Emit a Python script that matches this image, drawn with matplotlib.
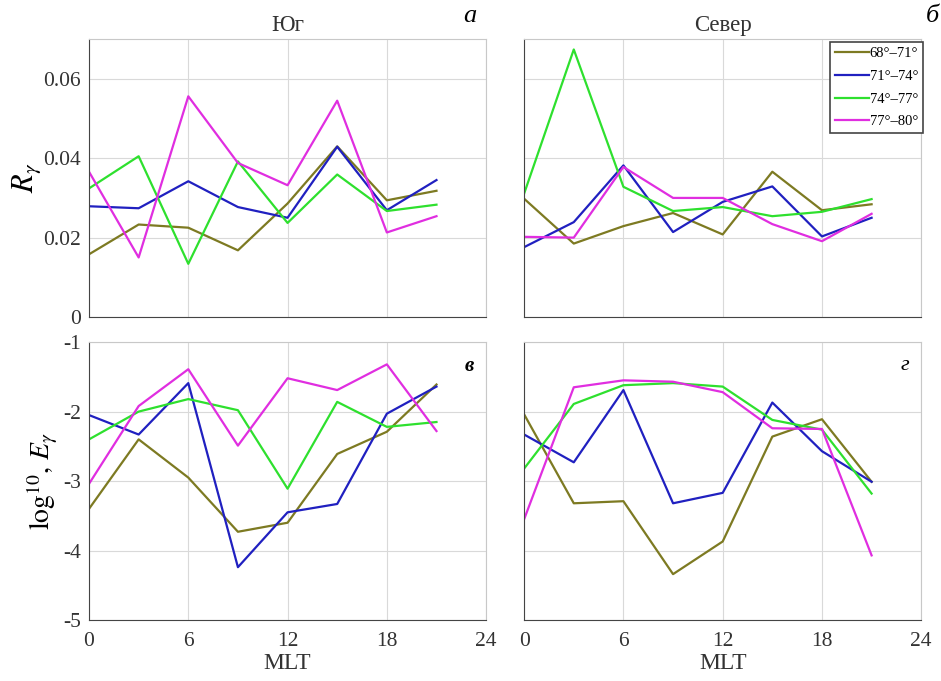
import matplotlib
matplotlib.use("Agg")
from matplotlib import pyplot as plt

# MLT и диапазоны широт
mlt = [0, 3, 6, 9, 12, 15, 18, 21]
bands = ['68°–71°', '71°–74°', '74°–77°', '77°–80°']
colors = ['#7d7a22', '#2020c0', '#2ee02e', '#e02ee0']

# R_gamma, Юг
r_south_68 = [0.0158, 0.0233, 0.0225, 0.0168, 0.0286, 0.0430, 0.0294, 0.0318]
r_south_71 = [0.0279, 0.0274, 0.0342, 0.0277, 0.0250, 0.0429, 0.0269, 0.0345]
r_south_74 = [0.0324, 0.0405, 0.0134, 0.0392, 0.0237, 0.0359, 0.0267, 0.0283]
r_south_77 = [0.0366, 0.0150, 0.0556, 0.0388, 0.0332, 0.0545, 0.0213, 0.0254]

# R_gamma, Север
r_north_68 = [0.0298, 0.0185, 0.0229, 0.0262, 0.0208, 0.0366, 0.0269, 0.0284]
r_north_71 = [0.0176, 0.0239, 0.0382, 0.0214, 0.0290, 0.0329, 0.0203, 0.0250]
r_north_74 = [0.0311, 0.0674, 0.0328, 0.0267, 0.0277, 0.0254, 0.0265, 0.0297]
r_north_77 = [0.0202, 0.0200, 0.0378, 0.0300, 0.0300, 0.0234, 0.0191, 0.0260]

# log10 E_gamma, Юг
e_south_68 = [-3.40, -2.40, -2.95, -3.73, -3.60, -2.61, -2.29, -1.61]
e_south_71 = [-2.05, -2.33, -1.59, -4.24, -3.45, -3.33, -2.03, -1.64]
e_south_74 = [-2.40, -2.00, -1.82, -1.98, -3.11, -1.86, -2.22, -2.15]
e_south_77 = [-3.04, -1.92, -1.39, -2.49, -1.52, -1.69, -1.32, -2.28]

# log10 E_gamma, Север
e_north_68 = [-2.04, -3.32, -3.29, -4.34, -3.87, -2.36, -2.11, -3.01]
e_north_71 = [-2.33, -2.73, -1.69, -3.32, -3.17, -1.87, -2.57, -3.01]
e_north_74 = [-2.82, -1.89, -1.62, -1.59, -1.64, -2.12, -2.26, -3.18]
e_north_77 = [-3.55, -1.65, -1.55, -1.57, -1.72, -2.24, -2.25, -4.07]

plt.rcParams['font.family'] = ['Liberation Serif', 'DejaVu Serif']
plt.rcParams['mathtext.fontset'] = 'stix'

fig = plt.figure(figsize=(9.41, 6.81), dpi=100)
x_l, x_r, w = 0.0946, 0.557, 0.422
y_t, y_b, h = 0.5345, 0.0896, 0.408
ax_a = fig.add_axes([x_l, y_t, w, h])
ax_b = fig.add_axes([x_r, y_t, w, h])
ax_c = fig.add_axes([x_l, y_b, w, h])
ax_d = fig.add_axes([x_r, y_b, w, h])

panels = [
    (ax_a, [r_south_68, r_south_71, r_south_74, r_south_77]),
    (ax_b, [r_north_68, r_north_71, r_north_74, r_north_77]),
    (ax_c, [e_south_68, e_south_71, e_south_74, e_south_77]),
    (ax_d, [e_north_68, e_north_71, e_north_74, e_north_77]),
]

for ax, series in panels:
    for vals, col, lab in zip(series, colors, bands):
        ax.plot(mlt, vals, color=col, linewidth=1.6, label=lab)
    ax.set_xlim(0, 24)
    ax.set_xticks([0, 6, 12, 18, 24])
    ax.grid(True, color='#d9d9d9', linewidth=0.8)
    ax.set_axisbelow(True)
    ax.tick_params(length=0, labelsize=15.5, colors='#333333')
    ax.tick_params(axis='x', pad=9)
    ax.tick_params(axis='y', pad=6)
    for side in ['top', 'right']:
        ax.spines[side].set_color('#c8c8c8')
    for side in ['left', 'bottom']:
        ax.spines[side].set_color('#444444')

for ax in (ax_a, ax_b):
    ax.set_ylim(0, 0.07)
    ax.set_yticks([0, 0.02, 0.04, 0.06])
    ax.set_yticklabels(['0', '0.02', '0.04', '0.06'])
    ax.tick_params(labelbottom=False)
for ax in (ax_c, ax_d):
    ax.set_ylim(-5, -1)
    ax.set_yticks([-5, -4, -3, -2, -1])
    ax.set_yticklabels(['-5', '-4', '-3', '-2', '-1'])
    ax.set_xlabel('MLT', fontsize=17, color='#333333', labelpad=1)
for ax in (ax_b, ax_d):
    ax.tick_params(labelleft=False)

ax_a.set_ylabel(r'$R_\gamma$', fontsize=22, labelpad=0)
ax_c.set_ylabel(r'$\mathrm{log}^{10}\mathrm{,}\ E_\gamma$', fontsize=20, labelpad=2)
ax_a.set_title('Юг', fontsize=16.5, color='#333333', pad=6)
ax_b.set_title('Север', fontsize=16.5, color='#333333', pad=6)

ax_a.text(0.975, 1.045, 'а', transform=ax_a.transAxes, fontsize=19, style='italic', ha='right', va='bottom')
ax_b.text(1.045, 1.045, 'б', transform=ax_b.transAxes, fontsize=19, style='italic', ha='right', va='bottom')
ax_c.text(0.97, 0.95, 'в', transform=ax_c.transAxes, fontsize=15, style='italic', weight='bold', ha='right', va='top')
ax_d.text(0.97, 0.95, 'г', transform=ax_d.transAxes, fontsize=16, style='italic', ha='right', va='top')

leg = ax_b.legend(loc='upper right', bbox_to_anchor=(1.005, 0.99), fontsize=10.5, handlelength=2.3,
                  handletextpad=0.05, borderpad=0.35, borderaxespad=0.0, labelspacing=0.65,
                  fancybox=False, framealpha=1)
leg.get_frame().set_edgecolor('#444444')
leg.get_frame().set_linewidth(1.2)

fig.savefig('out.png', dpi=100)
